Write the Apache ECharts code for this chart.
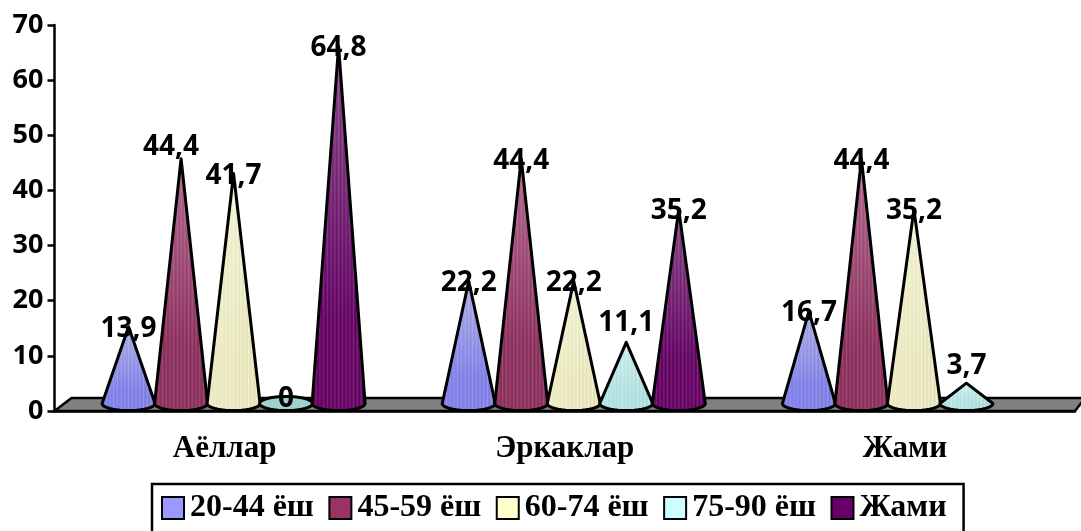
<!DOCTYPE html>
<html>

<head>
  <meta charset="UTF-8">
  <title>Жами</title>
  <script src="https://cdn.jsdelivr.net/npm/echarts@6/dist/echarts.min.js"></script>
  <style>
    html, body { margin: 0; padding: 0; background: #fff; }
    #main { width: 1081px; height: 531px; }
  </style>
</head>

<body>
  <div id="main"></div>
  <script type="text/javascript">
    var categories = ['Аёллар', 'Эркаклар', 'Жами'];
    var ageGroups = ['20-44 ёш', '45-59 ёш', '60-74 ёш', '75-90 ёш', 'Жами'];
    var age20to44 = [13.9, 22.2, 16.7];
    var age45to59 = [44.4, 44.4, 44.4];
    var age60to74 = [41.7, 22.2, 35.2];
    var age75to90 = [0, 11.1, 3.7];
    var ageTotal = [64.8, 35.2, null];
    var yTicks = [0, 10, 20, 30, 40, 50, 60, 70];
    var seriesValues = [age20to44, age45to59, age60to74, age75to90, ageTotal];
    var seriesColors = ['#9999ff', '#993366', '#ffffcc', '#ccffff', '#660066'];
    // cone shading, tip colour then base colour
    var coneTips = ['#b4b4ee', '#b86a95', '#fbfbdc', '#d4f6f6', '#8c4a8c'];
    var coneBases = ['#8484f0', '#8f2f5e', '#f2f1c6', '#b8e8e8', '#660066'];

    // look of the fake 3d
    var coneStep = 52.5;
    var coneRx = 26.5;
    var coneRy = 7;
    var depthX = 9;
    var depthY = 7.5;
    // excel moved a few labels by hand, per series and category
    var labelLift = [[0, 0, 0], [14, 0, 0], [0, 0, 0], [0, 21, 19], [0, 0, 0]];
    var labelLeft = [[0, 0, 0], [10, 0, 0], [0, 0, 0], [0, 0, 0], [0, 0, 0]];

    function coneFill(s) {
      return new echarts.graphic.LinearGradient(0, 0, 0, 1, [
        { offset: 0, color: coneTips[s] },
        { offset: 0.75, color: coneBases[s] },
        { offset: 1, color: coneBases[s] }
      ]);
    }

    // thin light stripes over the cone, a bit darker to the right
    function coneStripes() {
      var stops = [];
      var n = 30;
      for (var i = 0; i <= n; i++) {
        var t = i / n;
        stops.push({
          offset: t,
          color: i % 2 ? 'rgba(255,255,255,0.14)' : 'rgba(0,0,0,' + (t * 0.08).toFixed(3) + ')'
        });
      }
      return new echarts.graphic.LinearGradient(0, 0, 1, 0, stops);
    }

    function renderFloor(params, api) {
      var cs = params.coordSys;
      var bottom = cs.y + cs.height;
      return {
        type: 'polygon',
        silent: true,
        shape: {
          points: [[cs.x, bottom], [cs.x + 17, bottom - 13], [cs.x + cs.width + 10, bottom - 13], [cs.x + cs.width, bottom]]
        },
        style: { fill: '#808080', stroke: '#000', lineWidth: 2.5 }
      };
    }

    function coneRenderer(seriesIndex) {
      var fill = coneFill(seriesIndex);
      var stripes = coneStripes();
      return function (params, api) {
        var value = api.value(1);
        if (value === null || isNaN(value)) {
          return;
        }
        var base = api.coord([api.value(0), 0]);
        var top = api.coord([api.value(0), value]);
        var cx = base[0] + depthX + (seriesIndex - 2) * coneStep;
        var cy = base[1] - depthY;
        var tipY = top[1] - depthY;
        var points = [];
        var i;
        if (value < 1) {
          for (i = 0; i < 40; i++) {
            points.push([cx + coneRx * Math.cos(i / 40 * Math.PI * 2), cy + coneRy * Math.sin(i / 40 * Math.PI * 2)]);
          }
        } else {
          for (i = 0; i <= 20; i++) {
            points.push([cx + coneRx * Math.cos(i / 20 * Math.PI), cy + coneRy * Math.sin(i / 20 * Math.PI)]);
          }
          points.push([cx, tipY]);
        }
        return {
          type: 'group',
          children: [{
            type: 'polygon',
            shape: { points: points },
            style: { fill: value < 1 ? '#9fd0d0' : fill }
          }, {
            type: 'polygon',
            shape: { points: points },
            style: { fill: value < 1 ? 'rgba(0,0,0,0)' : stripes, stroke: '#000', lineWidth: 3, lineJoin: 'round' }
          }, {
            type: 'text',
            z2: 100,
            style: {
              x: cx - labelLeft[seriesIndex][params.dataIndex],
              y: (value < 1 ? cy - 4 : tipY + 2) - labelLift[seriesIndex][params.dataIndex],
              text: String(value).replace('.', ','),
              textAlign: 'center',
              textVerticalAlign: 'middle',
              fill: '#000',
              font: 'bold 28px "Open Sans"'
            }
          }]
        };
      };
    }

    var series = [{
      type: 'custom',
      silent: true,
      z: 1,
      clip: false,
      renderItem: renderFloor,
      data: [[0, 0]],
      encode: { x: 0, y: 1 }
    }];
    ageGroups.forEach(function (name, s) {
      series.push({
        name: name,
        type: 'custom',
        z: 2 + s,
        clip: false,
        itemStyle: { color: seriesColors[s], borderColor: '#000', borderWidth: 3 },
        renderItem: coneRenderer(s),
        encode: { x: 0, y: 1 },
        data: seriesValues[s].map(function (v, i) { return [i, v]; })
      });
    });

    var myChart = echarts.init(document.getElementById('main'));
    var option = {
      animation: false,
      backgroundColor: '#fff',
      grid: { left: 54.5, right: 6, top: 25, bottom: 120 },
      legend: {
        data: ageGroups,
        left: 152,
        top: 484,
        padding: [8, 17, 20, 9],
        itemWidth: 22,
        itemHeight: 22,
        itemGap: 14.5,
        icon: 'rect',
        borderColor: '#000',
        borderWidth: 2.5,
        textStyle: { color: '#000', fontFamily: 'Liberation Serif', fontWeight: 'bold', fontSize: 32, padding: [0, 0, 0, 1] }
      },
      xAxis: {
        type: 'category',
        data: categories,
        axisLine: { lineStyle: { color: '#000', width: 2.5 } },
        axisTick: { length: 7, lineStyle: { color: '#000', width: 2.5 } },
        axisLabel: { color: '#000', fontFamily: 'Liberation Serif', fontWeight: 'bold', fontSize: 31, margin: 22 }
      },
      yAxis: {
        type: 'value',
        min: 0,
        max: yTicks[yTicks.length - 1],
        interval: 10,
        splitLine: { show: false },
        axisLine: { show: true, lineStyle: { color: '#000', width: 2.5 } },
        axisTick: { show: true, length: 7, lineStyle: { color: '#000', width: 2.5 } },
        axisLabel: { color: '#000', fontFamily: 'Open Sans', fontWeight: 'bold', fontSize: 27, margin: 11 }
      },
      series: series
    };
    myChart.setOption(option);
  </script>
</body>

</html>
